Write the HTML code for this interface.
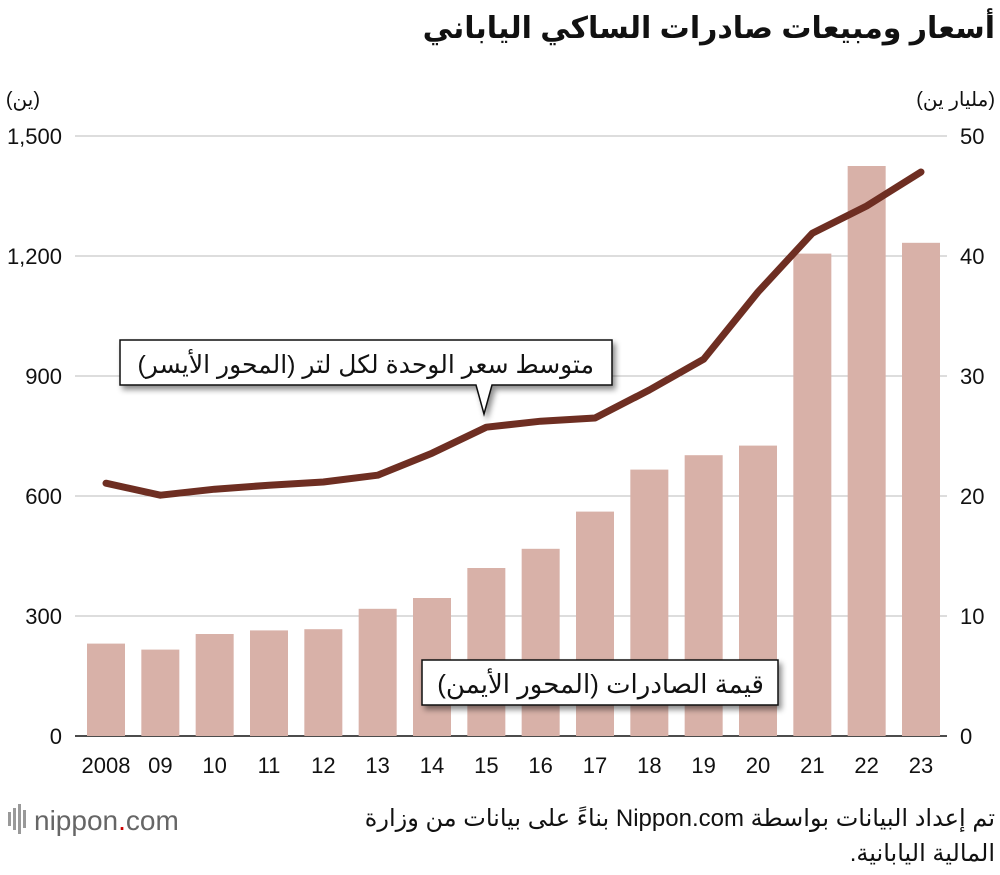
<!DOCTYPE html>
<html><head><meta charset="utf-8"><style>
body{margin:0;background:#fff;width:1000px;height:870px;overflow:hidden;font-family:"Liberation Sans","DejaVu Sans",sans-serif}
svg text{font-family:"Liberation Sans","DejaVu Sans",sans-serif}
</style></head><body>
<svg id="chart" width="1000" height="870" xmlns="http://www.w3.org/2000/svg">
<defs><filter id="sh" x="-10%" y="-20%" width="130%" height="160%"><feDropShadow dx="3" dy="4" stdDeviation="3" flood-color="#000" flood-opacity="0.45"/></filter></defs>
<text x="995" y="38" text-anchor="start" direction="rtl" font-size="30" font-weight="bold" fill="#111">أسعار ومبيعات صادرات الساكي الياباني</text>
<text x="40" y="106" text-anchor="start" font-size="20" fill="#111" direction="rtl">(ين)</text>
<text x="995" y="106" text-anchor="start" font-size="20" fill="#111" direction="rtl">(مليار ين)</text>
<g id="grid"></g><g id="bars"></g><g id="line"></g><g id="labels"></g>
<g>
<path d="M120,340 H612 V385 H492 L484,414 L476,385 H120 Z" fill="#fff" stroke="#111" stroke-width="1.5" filter="url(#sh)"/>
<text x="594" y="373" text-anchor="start" direction="rtl" font-size="25" fill="#111">متوسط سعر الوحدة لكل لتر (المحور الأيسر)</text>
</g>
<g>
<rect x="422" y="660" width="356" height="45" fill="#fff" stroke="#111" stroke-width="1.5" filter="url(#sh)"/>
<text x="764" y="693" text-anchor="start" direction="rtl" font-size="26" fill="#111">قيمة الصادرات (المحور الأيمن)</text>
</g>
<text x="995" y="826" text-anchor="start" direction="rtl" font-size="24" fill="#111">تم إعداد البيانات بواسطة Nippon.com بناءً على بيانات من وزارة</text>
<text x="995" y="861" text-anchor="start" direction="rtl" font-size="24" fill="#111">المالية اليابانية.</text>
<g>
<rect x="8" y="812" width="3" height="14" fill="#999"/><rect x="13" y="808" width="3" height="22" fill="#999"/><rect x="18" y="804" width="3" height="30" fill="#999"/><rect x="23" y="810" width="3" height="18" fill="#999"/>
<text x="34" y="830" font-size="28" fill="#666">nippon<tspan fill="#c00">.</tspan>com</text>
</g>
</svg>
<script>
const years=["2008","09","10","11","12","13","14","15","16","17","18","19","20","21","22","23"];
const exportValues=[7.7,7.2,8.5,8.8,8.9,10.6,11.5,14.0,15.6,18.7,22.2,23.4,24.2,40.2,47.5,41.1];
const unitPrices=[632,602,617,627,635,652,707,772,787,795,865,942,1110,1257,1325,1410];
const leftTicks=[0,300,600,900,1200,1500];
const rightTicks=[0,10,20,30,40,50];
const NS="http://www.w3.org/2000/svg";
const x0=106,dx=(921-106)/15,yBase=736,yTop=136;
const xPos=i=>x0+i*dx;
const yL=v=>yBase-(v/1500)*(yBase-yTop);
const yR=v=>yBase-(v/50)*(yBase-yTop);
function mk(tag,attrs,parent){const e=document.createElementNS(NS,tag);for(const k in attrs)e.setAttribute(k,attrs[k]);parent.appendChild(e);return e;}
const grid=document.getElementById('grid'),bars=document.getElementById('bars'),line=document.getElementById('line'),labels=document.getElementById('labels');
leftTicks.forEach((t,i)=>{
 const y=yL(t);
 const g=mk('line',{x1:75,x2:947,y1:y,y2:y,stroke:t===0?'#111':'#bbb','stroke-width':t===0?1.5:1},grid);
 
 
 const l=mk('text',{x:62,y:y+8,'text-anchor':'end','font-size':22,fill:'#111'},labels);
 l.textContent=t.toLocaleString('en-US');
 
 
});
rightTicks.forEach(t=>{
 const r=mk('text',{x:960,y:yR(t)+8,'font-size':22,fill:'#111'},labels);
 r.textContent=t;
 
 
});
years.forEach((yr,i)=>{
 const b=mk('rect',{x:xPos(i)-19,y:yR(exportValues[i]),width:38,height:yBase-yR(exportValues[i]),fill:'#d8b1a8'},bars);
 
 
 const t=mk('text',{x:xPos(i),y:773,'text-anchor':'middle','font-size':22,fill:'#111'},labels);
 t.textContent=yr;
 
 
});
const pts=unitPrices.map((v,i)=>xPos(i)+','+yL(v)).join(' ');
const pl=mk('polyline',{points:pts,fill:'none',stroke:'#6e2e22','stroke-width':7,'stroke-linejoin':'round','stroke-linecap':'round'},line);


</script>
</body></html>
